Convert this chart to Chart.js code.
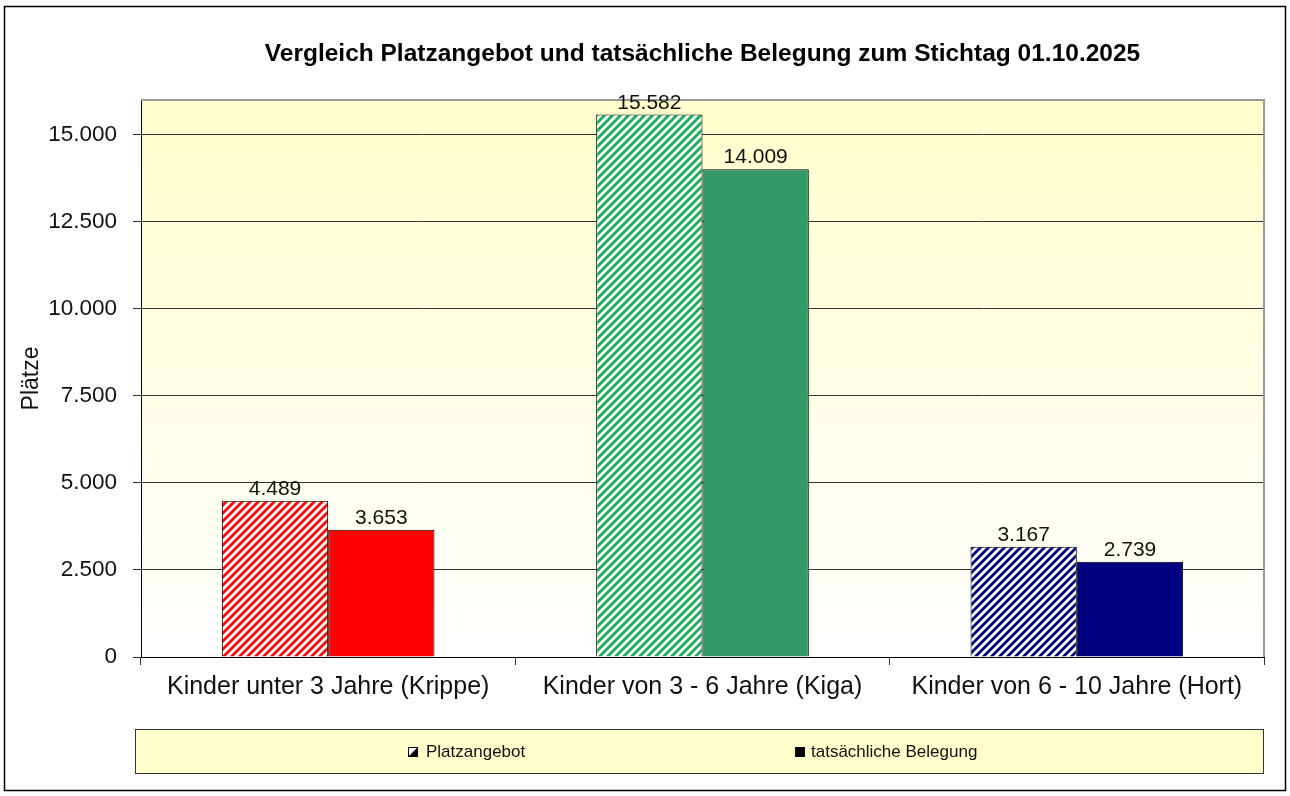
<!DOCTYPE html>
<html lang="de">
<head>
<meta charset="utf-8">
<title>Vergleich Platzangebot und tatsächliche Belegung</title>
<script src="https://cdn.jsdelivr.net/npm/chart.js@4"></script>
<style>
    body { margin: 0; background: #ffffff; }
    canvas { display: block; }
</style>
</head>
<body>
<canvas id="chart" width="1290" height="796"></canvas>
<script>
/* =========================
   DATEN
========================= */
const categories = [
    "Kinder unter 3 Jahre (Krippe)",
    "Kinder von 3 - 6 Jahre (Kiga)",
    "Kinder von 6 - 10 Jahre (Hort)"
];
const seriesNames = ["Platzangebot", "tatsächliche Belegung"];
const platzangebot = [4489, 15582, 3167];
const belegung = [3653, 14009, 2739];
const yTicks = [0, 2500, 5000, 7500, 10000, 12500, 15000];

const chartTitle = "Vergleich Platzangebot und tatsächliche Belegung zum Stichtag 01.10.2025";
const axisTitle = "Plätze";

/* =========================
   FARBEN
========================= */
const stripeColors = ["#ff0000", "#14ad55", "#000080"];
const solidColors = ["#ff0000", "#339966", "#000080"];
const FONT = '"Liberation Sans", Arial, sans-serif';

Chart.defaults.font.family = FONT;
Chart.defaults.color = "#111111";

function fmt(v) {
    return String(v).replace(/\B(?=(\d{3})+(?!\d))/g, ".");
}

// schraffur "/" auf weiss
function makeStripes(color) {
    const c = document.createElement("canvas");
    c.width = 8;
    c.height = 8;
    const g = c.getContext("2d");
    g.fillStyle = "#ffffff";
    g.fillRect(0, 0, 8, 8);
    g.strokeStyle = color;
    g.lineWidth = 2.8;
    g.beginPath();
    g.moveTo(-2, 10); g.lineTo(10, -2);
    g.moveTo(-6, 6); g.lineTo(6, -6);
    g.moveTo(2, 14); g.lineTo(14, 2);
    g.stroke();
    return g.createPattern(c, "repeat");
}

/* =========================
   PLUGIN: HINTERGRUND, RAHMEN, TEXTE
========================= */
const decor = {
    id: "decor",
    beforeDraw(chart) {
        const { ctx, chartArea: a } = chart;
        const grad = ctx.createLinearGradient(0, a.top, 0, a.bottom);
        grad.addColorStop(0, "#ffffcc");
        grad.addColorStop(1, "#ffffff");
        ctx.save();
        ctx.fillStyle = grad;
        ctx.fillRect(a.left, a.top, a.right - a.left, a.bottom - a.top);
        ctx.restore();
    },
    afterDatasetsDraw(chart) {
        const { ctx, chartArea: a } = chart;
        ctx.save();
        // rahmen oben / rechts
        ctx.strokeStyle = "#999999";
        ctx.lineWidth = 2;
        ctx.beginPath();
        ctx.moveTo(a.left, a.top);
        ctx.lineTo(a.right, a.top);
        ctx.lineTo(a.right, a.bottom);
        ctx.stroke();

        // werte über den balken
        ctx.fillStyle = "#111111";
        ctx.font = "21px " + FONT;
        ctx.textAlign = "center";
        ctx.textBaseline = "alphabetic";
        chart.data.datasets.forEach((ds, i) => {
            chart.getDatasetMeta(i).data.forEach((bar, j) => {
                ctx.fillText(fmt(ds.data[j]), bar.x, bar.y - 6);
            });
        });
        ctx.restore();
    },
    afterDraw(chart) {
        const { ctx, chartArea: a } = chart;
        ctx.save();

        // titel
        ctx.fillStyle = "#000000";
        ctx.font = "bold 24.5px " + FONT;
        ctx.textAlign = "center";
        ctx.textBaseline = "alphabetic";
        ctx.fillText(chartTitle, (a.left + a.right) / 2, 61);

        // legende
        ctx.fillStyle = "#ffffcc";
        ctx.fillRect(135, 729, 1128, 44);
        ctx.strokeStyle = "#333333";
        ctx.lineWidth = 1;
        ctx.strokeRect(135.5, 729.5, 1128, 44);

        // symbol schraffiert
        ctx.fillStyle = "#ffffff";
        ctx.fillRect(408, 747, 10, 10);
        ctx.fillStyle = "#000000";
        ctx.beginPath();
        ctx.moveTo(418, 747);
        ctx.lineTo(418, 757);
        ctx.lineTo(408, 757);
        ctx.closePath();
        ctx.fill();
        ctx.strokeStyle = "#000000";
        ctx.strokeRect(408.5, 747.5, 9, 9);
        // symbol voll
        ctx.fillRect(795, 747, 10, 10);

        ctx.font = "17px " + FONT;
        ctx.fillStyle = "#111111";
        ctx.textAlign = "left";
        ctx.fillText(seriesNames[0], 426, 757);
        ctx.fillText(seriesNames[1], 811, 757);

        // äusserer rahmen
        ctx.strokeStyle = "#000000";
        ctx.lineWidth = 1.5;
        ctx.strokeRect(4.5, 6.5, 1281, 784);
        ctx.restore();
    }
};

/* =========================
   BALKEN
========================= */
new Chart(document.getElementById("chart"), {
    type: "bar",
    data: {
        labels: categories,
        datasets: [{
            label: seriesNames[0],
            data: platzangebot,
            backgroundColor: stripeColors.map(makeStripes),
            borderColor: "#000000",
            borderWidth: 1
        }, {
            label: seriesNames[1],
            data: belegung,
            backgroundColor: solidColors,
            borderColor: "#000000",
            borderWidth: 1
        }]
    },
    options: {
        responsive: false,
        animation: false,
        categoryPercentage: 0.568,
        barPercentage: 1,
        layout: {
            padding: { left: 0, right: 26, top: 100, bottom: 89 }
        },
        scales: {
            x: {
                afterFit: s => { s.height = 50; },
                border: { color: "#000000", width: 1 },
                grid: { offset: true, drawOnChartArea: false, color: "#333333", tickLength: 8 },
                ticks: { padding: 7, font: { size: 25 }, color: "#111111", maxRotation: 0, autoSkip: false }
            },
            y: {
                min: 0,
                max: 16000,
                afterBuildTicks: s => { s.ticks = yTicks.map(v => ({ value: v })); },
                afterFit: s => { s.width = 141; },
                border: { color: "#000000", width: 1 },
                grid: { color: "#333333", tickLength: 8 },
                ticks: { padding: 16, font: { size: 22.5 }, color: "#111111", callback: v => fmt(v) },
                title: { display: true, text: axisTitle, font: { size: 23 }, color: "#111111", padding: { top: 18 } }
            }
        },
        plugins: {
            legend: { display: false },
            tooltip: { enabled: false }
        }
    },
    plugins: [decor]
});
</script>
</body>
</html>
